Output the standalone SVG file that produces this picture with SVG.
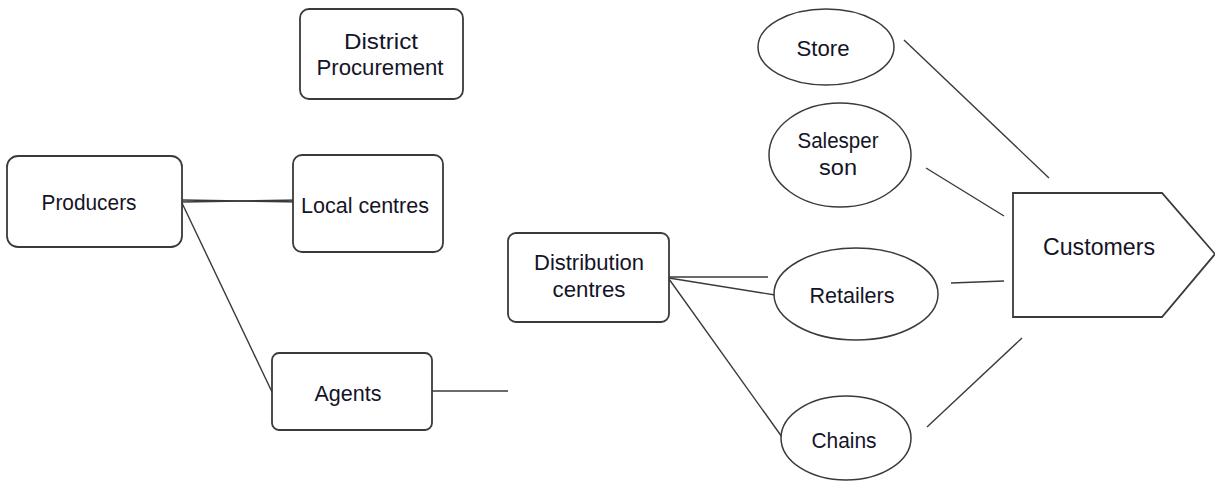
<svg xmlns="http://www.w3.org/2000/svg" width="1215" height="481" viewBox="0 0 1215 481">
<style>
.box{fill:#fff;stroke:#3a3a3a;stroke-width:1.8}
.ell{fill:#fff;stroke:#3a3a3a;stroke-width:1.5}
.ln{stroke:#3a3a3a;stroke-width:1.4;fill:none}
text{font-family:"Liberation Sans",Arial,sans-serif;font-size:22px;fill:#141428;text-anchor:middle}
</style>
<rect width="1215" height="481" fill="#fff"/>
<g id="connectors">
<line class="ln" x1="182" y1="200" x2="301" y2="202"/>
<line class="ln" x1="182" y1="202" x2="301" y2="200"/>
<line class="ln" x1="182" y1="203" x2="272" y2="392"/>
<line class="ln" x1="432" y1="391" x2="508" y2="391"/>
<line class="ln" x1="669" y1="277" x2="768" y2="277"/>
<line class="ln" x1="669" y1="278" x2="775" y2="295"/>
<line class="ln" x1="669" y1="279" x2="782" y2="437"/>
<line class="ln" x1="904" y1="40" x2="1049" y2="178"/>
<line class="ln" x1="926" y1="168" x2="1004" y2="216"/>
<line class="ln" x1="951" y1="283" x2="1004" y2="281"/>
<line class="ln" x1="927" y1="427" x2="1022" y2="338"/>
</g>
<g id="district-procurement">
<rect class="box" x="300" y="9" width="163" height="90" rx="9"/>
<text x="381" y="49" textLength="74" lengthAdjust="spacingAndGlyphs">District</text>
<text x="380" y="75" textLength="127" lengthAdjust="spacingAndGlyphs">Procurement</text>
</g>
<g id="producers">
<rect class="box" x="7" y="156" width="175" height="91" rx="11"/>
<text x="89" y="210" textLength="95" lengthAdjust="spacingAndGlyphs">Producers</text>
</g>
<g id="local-centres">
<rect class="box" x="293" y="155" width="150" height="97" rx="9"/>
<text x="365" y="213" textLength="128" lengthAdjust="spacingAndGlyphs">Local centres</text>
</g>
<g id="agents">
<rect class="box" x="272" y="353" width="160" height="77" rx="7"/>
<text x="348" y="401" textLength="67" lengthAdjust="spacingAndGlyphs">Agents</text>
</g>
<g id="distribution-centres">
<rect class="box" x="508" y="233" width="161" height="89" rx="8"/>
<text x="589" y="270" textLength="110" lengthAdjust="spacingAndGlyphs">Distribution</text>
<text x="589" y="297" textLength="73" lengthAdjust="spacingAndGlyphs">centres</text>
</g>
<g id="store">
<ellipse class="ell" cx="826" cy="47" rx="68" ry="38"/>
<text x="823" y="56" textLength="53" lengthAdjust="spacingAndGlyphs">Store</text>
</g>
<g id="salesperson">
<ellipse class="ell" cx="840" cy="155" rx="71" ry="52"/>
<text x="838" y="148" textLength="81" lengthAdjust="spacingAndGlyphs">Salesper</text>
<text x="838" y="175" textLength="38" lengthAdjust="spacingAndGlyphs">son</text>
</g>
<g id="retailers">
<ellipse class="ell" cx="856" cy="294" rx="82" ry="46"/>
<text x="852" y="303" textLength="85" lengthAdjust="spacingAndGlyphs">Retailers</text>
</g>
<g id="chains">
<ellipse class="ell" cx="846" cy="438" rx="65" ry="42"/>
<text x="844" y="448" textLength="65" lengthAdjust="spacingAndGlyphs">Chains</text>
</g>
<g id="customers">
<polygon class="box" points="1013,193 1162,193 1215,254 1162,317 1013,317"/>
<text x="1099" y="255" style="font-size:24px" textLength="112" lengthAdjust="spacingAndGlyphs">Customers</text>
</g>
</svg>
